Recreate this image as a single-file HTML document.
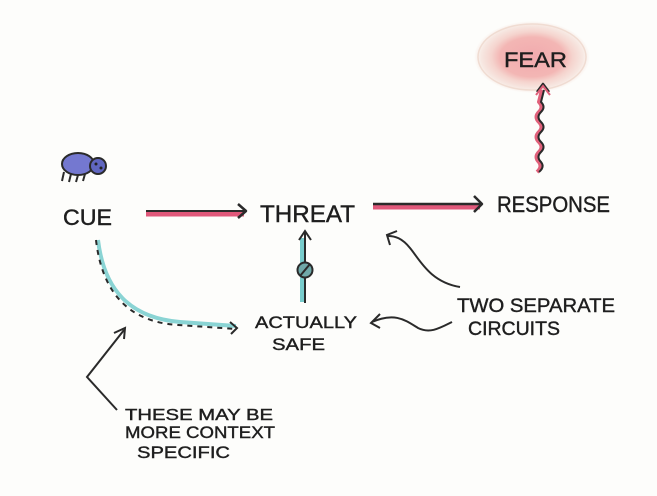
<!DOCTYPE html>
<html><head><meta charset="utf-8"><style>
html,body{margin:0;padding:0;background:#fdfdfb;}
svg{display:block;}
text{font-family:"Liberation Sans",sans-serif;fill:#1e1e1e;stroke:#1e1e1e;stroke-width:0.4;}
</style></head><body>
<svg width="657" height="496" viewBox="0 0 657 496" xmlns="http://www.w3.org/2000/svg">
<defs>
<radialGradient id="fg" cx="50%" cy="50%" r="50%">
<stop offset="0" stop-color="#f2aaae"/>
<stop offset="0.55" stop-color="#f3b6b4"/>
<stop offset="0.7" stop-color="#f5d4ce"/>
<stop offset="0.88" stop-color="#f7e8e2"/>
<stop offset="1" stop-color="#fdfdfb"/>
</radialGradient>
</defs>
<rect width="657" height="496" fill="#fdfdfb"/>

<!-- FEAR blob -->
<ellipse cx="532" cy="57" rx="58" ry="36" fill="url(#fg)"/>
<ellipse cx="532" cy="57" rx="54" ry="33" fill="none" stroke="#f0dcd2" stroke-width="1.5"/>
<text x="504" y="67" font-size="21" textLength="63" lengthAdjust="spacingAndGlyphs">FEAR</text>

<!-- wavy arrow to FEAR -->
<path d="M539 172 q6 -5 2 -10 q-5 -5 0 -10 q5 -5 0 -10 q-5 -5 0 -10 q5 -5 0 -10 q-5 -5 0 -10 q5 -5 0 -10 l3 -12" fill="none" stroke="#e0607a" stroke-width="4" stroke-linejoin="round" transform="translate(-2,0)"/>
<path d="M539 172 q6 -5 2 -10 q-5 -5 0 -10 q5 -5 0 -10 q-5 -5 0 -10 q5 -5 0 -10 q-5 -5 0 -10 q5 -5 0 -10 l3 -12" fill="none" stroke="#2a2a2a" stroke-width="2" stroke-linejoin="round"/>
<path d="M537 92 l6 -8 l6 8" fill="none" stroke="#2a2a2a" stroke-width="2.5" stroke-linejoin="round"/>
<path d="M536 95 l7 -9 l7 9" fill="none" stroke="#e0607a" stroke-width="2"/>

<!-- bug -->
<ellipse cx="78" cy="164" rx="16" ry="11" fill="#7478d0" stroke="#2a2a2a" stroke-width="2"/>
<circle cx="98" cy="166" r="8" fill="#6066c0" stroke="#2a2a2a" stroke-width="2"/>
<circle cx="96" cy="164" r="1.5" fill="#222"/><circle cx="101" cy="168" r="1.5" fill="#222"/>
<path d="M64 172 l-2 9 M71 174 l-2 8 M78 175 l-2 7 M85 174 l-2 7" stroke="#2a2a2a" stroke-width="2" fill="none"/>

<!-- labels -->
<text x="63" y="225" font-size="22" textLength="49" lengthAdjust="spacingAndGlyphs">CUE</text>
<text x="260" y="222" font-size="24" textLength="95" lengthAdjust="spacingAndGlyphs">THREAT</text>
<text x="497" y="212" font-size="22" textLength="113" lengthAdjust="spacingAndGlyphs">RESPONSE</text>
<text x="255" y="328" font-size="17" textLength="102" lengthAdjust="spacingAndGlyphs">ACTUALLY</text>
<text x="272" y="350" font-size="17" textLength="53" lengthAdjust="spacingAndGlyphs">SAFE</text>
<text x="457" y="312" font-size="19" textLength="158" lengthAdjust="spacingAndGlyphs">TWO SEPARATE</text>
<text x="468" y="335" font-size="19" textLength="92" lengthAdjust="spacingAndGlyphs">CIRCUITS</text>
<text x="125" y="420" font-size="16" textLength="148" lengthAdjust="spacingAndGlyphs">THESE MAY BE</text>
<text x="125" y="438" font-size="17" textLength="150" lengthAdjust="spacingAndGlyphs">MORE CONTEXT</text>
<text x="137" y="458" font-size="17" textLength="93" lengthAdjust="spacingAndGlyphs">SPECIFIC</text>

<!-- CUE -> THREAT -->
<path d="M146 214 L244 214" stroke="#e0587a" stroke-width="5"/>
<path d="M146 211 L245 211" stroke="#2a2a2a" stroke-width="2"/>
<path d="M238 204 l8 7 l-8 7" fill="none" stroke="#2a2a2a" stroke-width="2.5" stroke-linejoin="round"/>

<!-- THREAT -> RESPONSE -->
<path d="M373 207 L480 207" stroke="#e0587a" stroke-width="5"/>
<path d="M373 204 L481 204" stroke="#2a2a2a" stroke-width="2.5"/>
<path d="M474 196 l8 8 l-8 8" fill="none" stroke="#2a2a2a" stroke-width="2.5" stroke-linejoin="round"/>

<!-- SAFE -> THREAT vertical -->
<path d="M302 302 L302 238" stroke="#78cccc" stroke-width="4"/>
<path d="M305 303 L305 231" stroke="#2a2a2a" stroke-width="2"/>
<path d="M299 240 l6 -9 l6 9" fill="none" stroke="#2a2a2a" stroke-width="2"/>
<circle cx="305" cy="270" r="7.5" fill="#6fa8a8" stroke="#2a2a2a" stroke-width="2"/>
<path d="M300 276 L310 264" stroke="#2a2a2a" stroke-width="2"/>

<!-- dashed curved arrow CUE -> SAFE -->
<path d="M98 240 C104 290 130 318 180 322 L236 326" fill="none" stroke="#8ad4d4" stroke-width="4"/>
<path d="M96 240 C102 292 128 322 178 325 L236 329" fill="none" stroke="#2a2a2a" stroke-width="2" stroke-dasharray="5 5"/>
<path d="M230 322 l7 6 l-6 6" fill="none" stroke="#2a2a2a" stroke-width="2"/>

<!-- curved arrow to THREAT -->
<path d="M460 287 C430 282 420 260 410 248 C402 238 395 236 388 236" fill="none" stroke="#2a2a2a" stroke-width="2"/>
<path d="M397 231 l-10 4 l3 10" fill="none" stroke="#2a2a2a" stroke-width="2"/>

<!-- wavy arrow to ACTUALLY SAFE -->
<path d="M452 322 C440 328 430 334 418 328 C405 320 395 312 372 322" fill="none" stroke="#2a2a2a" stroke-width="2"/>
<path d="M380 314 l-9 9 l9 5" fill="none" stroke="#2a2a2a" stroke-width="2"/>

<!-- angled arrow -->
<path d="M117 410 L87 377 L124 330" fill="none" stroke="#2a2a2a" stroke-width="2"/>
<path d="M114 333 l11 -5 l-1 11" fill="none" stroke="#2a2a2a" stroke-width="2"/>
</svg>
</body></html>
